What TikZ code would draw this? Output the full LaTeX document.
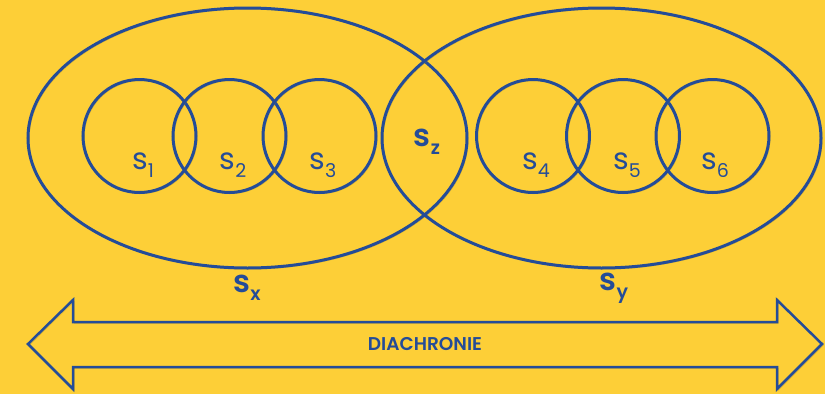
\documentclass[tikz,border=0pt]{standalone}
\usepackage{fontspec}
\setmainfont{Poppins}[BoldFont={Poppins SemiBold}]

\definecolor{fond}{RGB}{253,207,55}
\definecolor{bleu}{RGB}{36,76,152}
\definecolor{ombre}{RGB}{170,135,30}

% indice abaissé, en texte
\newcommand{\indice}[1]{\raisebox{-0.45ex}{\fontsize{19}{19}\selectfont #1}}

\begin{document}
\begin{tikzpicture}[x=1pt,y=-1pt,
  ligne/.style={draw=bleu, line width=3pt,
    preaction={draw=ombre, opacity=.45, transform canvas={shift={(1.3pt,-1.3pt)}}}},
  etiq/.style={text=bleu, inner sep=0pt, font=\fontsize{30}{30}\selectfont},
  grand/.style={etiq, font=\fontsize{31}{31}\selectfont\bfseries}]
  % Fond jaune
  \fill[fond] (0,0) rectangle (825,394);
  \useasboundingbox (0,0) rectangle (825,394);

  % Les deux grands ensembles
  \draw[ligne] (247.5,138) ellipse [x radius=219.5, y radius=130];
  \draw[ligne] (601.5,138) ellipse [x radius=219.5, y radius=130];

  % Petits cercles
  \foreach \x in {139.5,229.5,319.5,533,623,712.5}
    \draw[ligne] (\x,136) circle (56.5);

  % Etiquettes des cercles
  \foreach \i/\x in {1/143,2/233,3/323,4/536,5/627,6/715}
    \node[etiq] (s\i) at (\x,165) {s\indice{\i}};

  \node[grand] (sz) at (427,142) {s\indice{z}};
  \node[grand] (sx) at (247,288) {s\indice{x}};
  \node[grand] (sy) at (614,288) {s\indice{y}};

  % Flèche double
  \draw[ligne, line width=2.5pt, line join=miter]
    (28,344) -- (73,300) -- (73,322) -- (777,322) -- (777,300) -- (822,344)
    -- (777,389) -- (777,367) -- (73,367) -- (73,389) -- cycle;
  \node[etiq, font=\fontsize{18.5}{18.5}\selectfont\bfseries] (diachronie) at (425,344) {DIACHRONIE};
\end{tikzpicture}
\end{document}
